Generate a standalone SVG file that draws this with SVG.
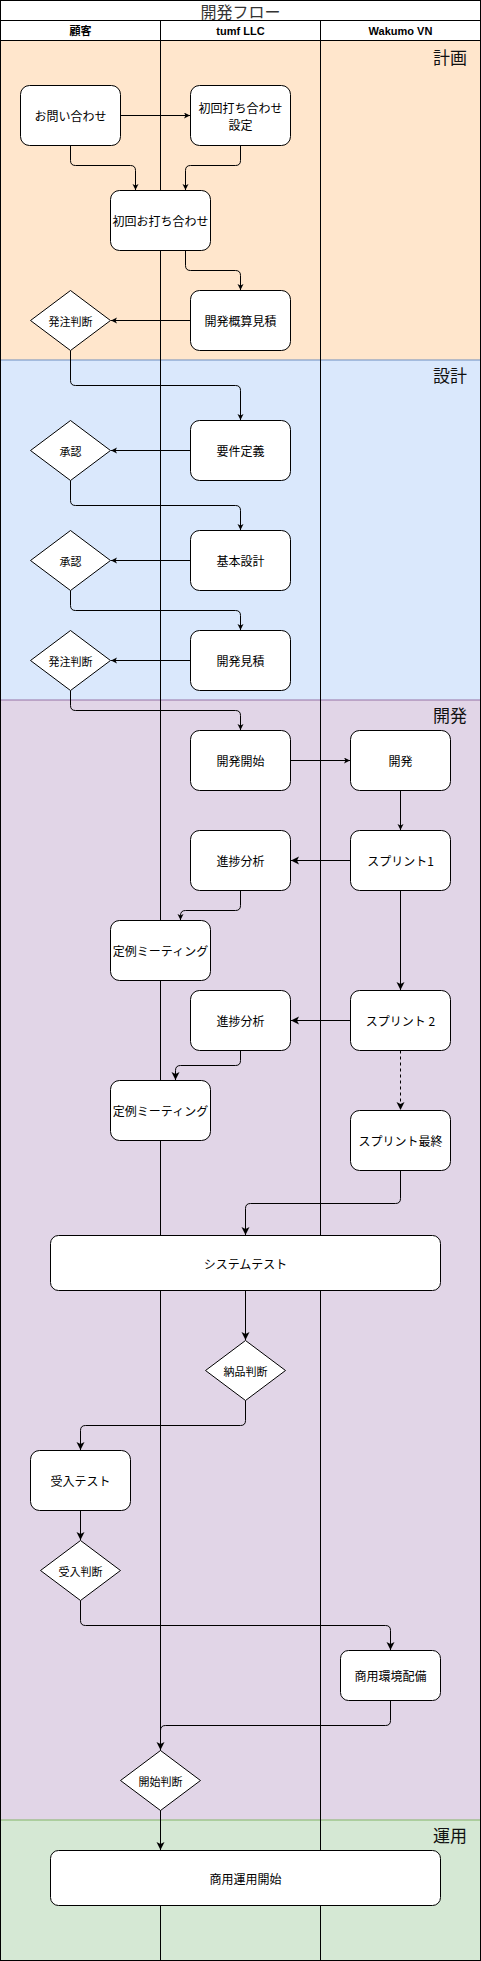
<svg xmlns="http://www.w3.org/2000/svg" width="481" height="1961" viewBox="0 0 481 1961">
<style>
.node rect,.node polygon{fill:#fff;stroke:#000;stroke-width:1}
.t{font-family:"Noto Sans CJK JP","Liberation Sans",sans-serif;font-size:12px;fill:#000;text-anchor:middle;dominant-baseline:central}
.d{font-size:11px}
.hdr{font-family:"Liberation Sans","Noto Sans CJK JP",sans-serif;font-size:11px;font-weight:bold;text-anchor:middle;dominant-baseline:central}
.sec{font-family:"Noto Sans CJK JP",sans-serif;font-size:17px;text-anchor:end;dominant-baseline:central;fill:#111}
.c path{fill:none;stroke:#000;stroke-width:1}
.lane{stroke:#000;stroke-width:1;fill:none}
</style>
<defs>
<marker id="a" markerUnits="userSpaceOnUse" markerWidth="8" markerHeight="8" refX="6" refY="3" orient="auto"><path d="M0,0 L6,3 L0,6 L1.5,3 z" fill="#000"/></marker>
<marker id="b" markerUnits="userSpaceOnUse" markerWidth="10" markerHeight="10" refX="8" refY="4" orient="auto"><path d="M0,0 L8,4 L0,8 L2,4 z" fill="#000"/></marker>
</defs>
<g id="background">
<rect x="0" y="0" width="481" height="1961" fill="#fff"/>
<rect x="0.5" y="40" width="480" height="320" fill="#ffe6cc"/>
<rect x="0.5" y="360" width="480" height="340" fill="#dae8fc"/>
<rect x="0.5" y="700" width="480" height="1120" fill="#e1d5e7"/>
<rect x="0.5" y="1820" width="480" height="140" fill="#d5e8d4"/>
<line x1="0.5" y1="360" x2="480.5" y2="360" stroke="#6c8ebf"/>
<line x1="0.5" y1="700" x2="480.5" y2="700" stroke="#9673a6"/>
<line x1="0.5" y1="1820" x2="480.5" y2="1820" stroke="#82b366"/>
<text class="sec" x="467" y="56">計画</text>
<text class="sec" x="467" y="374">設計</text>
<text class="sec" x="467" y="714">開発</text>
<text class="sec" x="467" y="1834">運用</text>
</g>
<g id="pool">
<rect class="lane" x="0.5" y="0.5" width="480" height="1960"/>
<line class="lane" x1="0.5" y1="20.5" x2="480.5" y2="20.5"/>
<line class="lane" x1="0.5" y1="40.5" x2="480.5" y2="40.5"/>
<line class="lane" x1="160.5" y1="20.5" x2="160.5" y2="1960.5"/>
<line class="lane" x1="320.5" y1="20.5" x2="320.5" y2="1960.5"/>
<text x="240.5" y="10.5" font-family="Noto Sans CJK JP,sans-serif" font-size="16" fill="#333" text-anchor="middle" dominant-baseline="central">開発フロー</text>
<text class="hdr" x="80.5" y="30.5">顧客</text>
<text class="hdr" x="240.5" y="30.5">tumf LLC</text>
<text class="hdr" x="400.5" y="30.5">Wakumo VN</text>
</g>
<g id="connectors" class="c">
<path d="M120.5,115.5 H190" marker-end="url(#a)"/>
<path d="M70.5,145.5 V160.5 Q70.5,165.5 75.5,165.5 H130.5 Q135.5,165.5 135.5,170.5 V190" marker-end="url(#a)"/>
<path d="M240.5,145.5 V160.5 Q240.5,165.5 235.5,165.5 H190.5 Q185.5,165.5 185.5,170.5 V190" marker-end="url(#a)"/>
<path d="M185.5,250.5 V265.5 Q185.5,270.5 190.5,270.5 H235.5 Q240.5,270.5 240.5,275.5 V290" marker-end="url(#a)"/>
<path d="M190.5,320.5 H111" marker-end="url(#a)"/>
<path d="M70.5,350.5 V380.5 Q70.5,385.5 75.5,385.5 H235.5 Q240.5,385.5 240.5,390.5 V420" marker-end="url(#a)"/>
<path d="M190.5,450.5 H111" marker-end="url(#a)"/>
<path d="M70.5,480.5 V500.5 Q70.5,505.5 75.5,505.5 H235.5 Q240.5,505.5 240.5,510.5 V530" marker-end="url(#a)"/>
<path d="M190.5,560.5 H111" marker-end="url(#a)"/>
<path d="M70.5,590.5 V605.5 Q70.5,610.5 75.5,610.5 H235.5 Q240.5,610.5 240.5,615.5 V630" marker-end="url(#a)"/>
<path d="M190.5,660.5 H111" marker-end="url(#a)"/>
<path d="M70.5,690.5 V705.5 Q70.5,710.5 75.5,710.5 H235.5 Q240.5,710.5 240.5,715.5 V730" marker-end="url(#a)"/>
<path d="M290.5,760.5 H350" marker-end="url(#a)"/>
<path d="M400.5,790.5 V830" marker-end="url(#a)"/>
<path d="M350.5,860.5 H291" marker-end="url(#b)"/>
<path d="M240.5,890.5 V905.5 Q240.5,910.5 235.5,910.5 H185.5 Q180.5,910.5 180.5,915.5 V920" marker-end="url(#a)"/>
<path d="M400.5,890.5 V990" marker-end="url(#b)"/>
<path d="M350.5,1020.5 H291" marker-end="url(#b)"/>
<path d="M240.5,1050.5 V1060.5 Q240.5,1065.5 235.5,1065.5 H180.5 Q175.5,1065.5 175.5,1070.5 V1080" marker-end="url(#b)"/>
<path d="M400.5,1050.5 V1110" stroke-dasharray="3,3" marker-end="url(#b)"/>
<path d="M400.5,1170.5 V1198.5 Q400.5,1203.5 395.5,1203.5 H250.5 Q245.5,1203.5 245.5,1208.5 V1235" marker-end="url(#b)"/>
<path d="M245.5,1290.5 V1340" marker-end="url(#b)"/>
<path d="M245.5,1400.5 V1420.5 Q245.5,1425.5 240.5,1425.5 H85.5 Q80.5,1425.5 80.5,1430.5 V1450" marker-end="url(#b)"/>
<path d="M80.5,1510.5 V1540" marker-end="url(#b)"/>
<path d="M80.5,1600.5 V1620.5 Q80.5,1625.5 85.5,1625.5 H385.5 Q390.5,1625.5 390.5,1630.5 V1650" marker-end="url(#b)"/>
<path d="M390.5,1700.5 V1720.5 Q390.5,1725.5 385.5,1725.5 H165.5 Q160.5,1725.5 160.5,1730.5 V1750" marker-end="url(#b)"/>
<path d="M160.5,1810.5 V1850" marker-end="url(#b)"/>
</g>
<g id="n1" class="node"><rect x="20.5" y="85.5" width="100" height="60" rx="9"/><text class="t" x="70.5" y="115.5">お問い合わせ</text></g>
<g id="n2" class="node"><rect x="190.5" y="85.5" width="100" height="60" rx="9"/><text class="t" x="240.5" y="107.5">初回打ち合わせ</text><text class="t" x="240.5" y="124">設定</text></g>
<g id="n3" class="node"><rect x="110.5" y="190.5" width="100" height="60" rx="9"/><text class="t" x="160.5" y="220.5">初回お打ち合わせ</text></g>
<g id="n4" class="node"><rect x="190.5" y="290.5" width="100" height="60" rx="9"/><text class="t" x="240.5" y="320.5">開発概算見積</text></g>
<g id="n5" class="node"><polygon points="70.5,290.5 110.5,320.5 70.5,350.5 30.5,320.5"/><text class="t d" x="70.5" y="320.5">発注判断</text></g>
<g id="n6" class="node"><rect x="190.5" y="420.5" width="100" height="60" rx="9"/><text class="t" x="240.5" y="450.5">要件定義</text></g>
<g id="n7" class="node"><polygon points="70.5,420.5 110.5,450.5 70.5,480.5 30.5,450.5"/><text class="t d" x="70.5" y="450.5">承認</text></g>
<g id="n8" class="node"><rect x="190.5" y="530.5" width="100" height="60" rx="9"/><text class="t" x="240.5" y="560.5">基本設計</text></g>
<g id="n9" class="node"><polygon points="70.5,530.5 110.5,560.5 70.5,590.5 30.5,560.5"/><text class="t d" x="70.5" y="560.5">承認</text></g>
<g id="n10" class="node"><rect x="190.5" y="630.5" width="100" height="60" rx="9"/><text class="t" x="240.5" y="660.5">開発見積</text></g>
<g id="n11" class="node"><polygon points="70.5,630.5 110.5,660.5 70.5,690.5 30.5,660.5"/><text class="t d" x="70.5" y="660.5">発注判断</text></g>
<g id="n12" class="node"><rect x="190.5" y="730.5" width="100" height="60" rx="9"/><text class="t" x="240.5" y="760.5">開発開始</text></g>
<g id="n13" class="node"><rect x="350.5" y="730.5" width="100" height="60" rx="9"/><text class="t" x="400.5" y="760.5">開発</text></g>
<g id="n14" class="node"><rect x="190.5" y="830.5" width="100" height="60" rx="9"/><text class="t" x="240.5" y="860.5">進捗分析</text></g>
<g id="n15" class="node"><rect x="350.5" y="830.5" width="100" height="60" rx="9"/><text class="t" x="400.5" y="860.5">スプリント1</text></g>
<g id="n16" class="node"><rect x="110.5" y="920.5" width="100" height="60" rx="9"/><text class="t" x="160.5" y="950.5">定例ミーティング</text></g>
<g id="n17" class="node"><rect x="190.5" y="990.5" width="100" height="60" rx="9"/><text class="t" x="240.5" y="1020.5">進捗分析</text></g>
<g id="n18" class="node"><rect x="350.5" y="990.5" width="100" height="60" rx="9"/><text class="t" x="400.5" y="1020.5">スプリント 2</text></g>
<g id="n19" class="node"><rect x="110.5" y="1080.5" width="100" height="60" rx="9"/><text class="t" x="160.5" y="1110.5">定例ミーティング</text></g>
<g id="n20" class="node"><rect x="350.5" y="1110.5" width="100" height="60" rx="9"/><text class="t" x="400.5" y="1140.5">スプリント最終</text></g>
<g id="n21" class="node"><rect x="50.5" y="1235.5" width="390" height="55" rx="8"/><text class="t" x="245.5" y="1263">システムテスト</text></g>
<g id="n22" class="node"><polygon points="245.5,1340.5 285.5,1370.5 245.5,1400.5 205.5,1370.5"/><text class="t d" x="245.5" y="1370.5">納品判断</text></g>
<g id="n23" class="node"><rect x="30.5" y="1450.5" width="100" height="60" rx="9"/><text class="t" x="80.5" y="1480.5">受入テスト</text></g>
<g id="n24" class="node"><polygon points="80.5,1540.5 120.5,1570.5 80.5,1600.5 40.5,1570.5"/><text class="t d" x="80.5" y="1570.5">受入判断</text></g>
<g id="n25" class="node"><rect x="340.5" y="1650.5" width="100" height="50" rx="8"/><text class="t" x="390.5" y="1675.5">商用環境配備</text></g>
<g id="n26" class="node"><polygon points="160.5,1750.5 200.5,1780.5 160.5,1810.5 120.5,1780.5"/><text class="t d" x="160.5" y="1780.5">開始判断</text></g>
<g id="n27" class="node"><rect x="50.5" y="1850.5" width="390" height="55" rx="8"/><text class="t" x="245.5" y="1878">商用運用開始</text></g>
</svg>
